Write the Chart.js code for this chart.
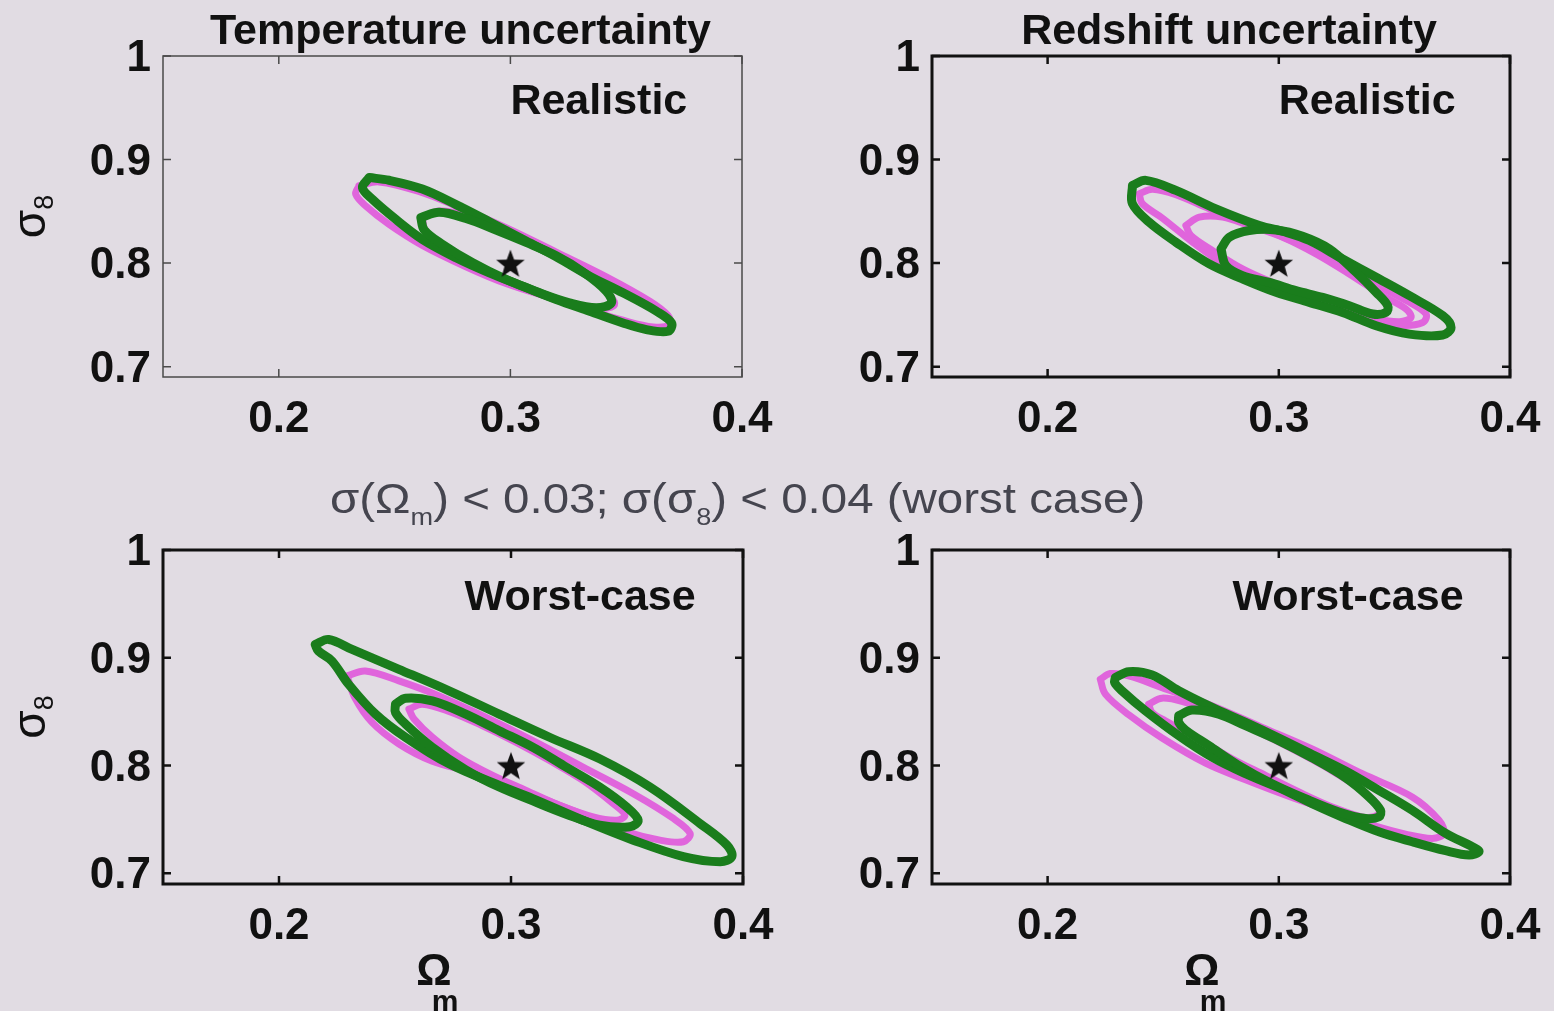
<!DOCTYPE html>
<html>
<head>
<meta charset="utf-8">
<script src="https://cdn.jsdelivr.net/npm/chart.js@4.4.1/dist/chart.umd.min.js"></script>
<style>
  html, body { margin: 0; padding: 0; background: #e1dce3; }
  body { width: 1554px; height: 1011px; position: relative; overflow: hidden;
         font-family: "Liberation Sans", Arial, sans-serif; }
  canvas { position: absolute; }
  #subtitle { position: absolute; left: 330px; top: 478px; font-size: 42px; line-height: 42px;
              color: #45454f; white-space: nowrap; transform: scaleX(1.13); transform-origin: 0 0; }
  #subtitle sub { font-size: 24px; vertical-align: -12px; line-height: 0; }
</style>
</head>
<body>
<canvas id="pTL" width="777" height="455" style="left:0;top:0"></canvas>
<canvas id="pTR" width="777" height="455" style="left:777px;top:0"></canvas>
<canvas id="pBL" width="777" height="556" style="left:0;top:455px"></canvas>
<canvas id="pBR" width="777" height="556" style="left:777px;top:455px"></canvas>
<div id="subtitle">σ(Ω<sub>m</sub>) &lt; 0.03; σ(σ<sub>8</sub>) &lt; 0.04 (worst case)</div>
<script>
// Axis ranges and ticks (Omega_m on x, sigma_8 on y)
const xRange = [0.15, 0.4];
const yRange = [0.69, 1.0];
const xTicks = [0.2, 0.3, 0.4];
const xTickLabels = ['0.2', '0.3', '0.4'];
const yTicks = [0.7, 0.8, 0.9, 1];
const yTickLabels = ['0.7', '0.8', '0.9', '1'];

// Fiducial cosmology marked with a star
const fiducial = [0.3, 0.8];

// Text of each panel
const panelTitles = ['Temperature uncertainty', 'Redshift uncertainty', '', ''];
const caseLabels = ['Realistic', 'Realistic', 'Worst-case', 'Worst-case'];
const caseLabelX = [0.30, 0.30, 0.28, 0.28];
const caseLabelY = 0.955;

// Confidence contours, [Omega_m, sigma_8] pairs
// Temperature uncertainty, realistic
const tempRealMagentaOuter = [[0.2346,0.8745],[0.2433,0.8784],[0.2620,0.8681],[0.2765,0.8552],[0.2981,0.8342],[0.3198,0.8106],[0.3414,0.7868],[0.3602,0.7632],[0.3681,0.7493],[0.3688,0.7406],[0.3616,0.7384],[0.3486,0.7448],[0.3342,0.7545],[0.3198,0.7648],[0.2981,0.7803],[0.2808,0.7965],[0.2620,0.8171],[0.2476,0.8374],[0.2375,0.8552],[0.2332,0.8665]];
const tempRealMagentaInner = [[0.2620,0.8439],[0.2693,0.8503],[0.2808,0.8461],[0.2938,0.8342],[0.3068,0.8213],[0.3198,0.8061],[0.3328,0.7890],[0.3421,0.7713],[0.3450,0.7600],[0.3385,0.7558],[0.3255,0.7610],[0.3126,0.7706],[0.2981,0.7835],[0.2837,0.7997],[0.2707,0.8171],[0.2632,0.8319]];
const tempRealGreenOuter = [[0.2390,0.8826],[0.2476,0.8800],[0.2620,0.8715],[0.2765,0.8565],[0.2909,0.8400],[0.3053,0.8230],[0.3198,0.8060],[0.3342,0.7874],[0.3486,0.7713],[0.3631,0.7535],[0.3696,0.7422],[0.3681,0.7342],[0.3587,0.7358],[0.3486,0.7422],[0.3342,0.7535],[0.3198,0.7648],[0.3053,0.7777],[0.2909,0.7906],[0.2765,0.8052],[0.2620,0.8229],[0.2505,0.8423],[0.2404,0.8616],[0.2361,0.8729]];
const tempRealGreenInner = [[0.2613,0.8440],[0.2693,0.8490],[0.2808,0.8430],[0.2938,0.8320],[0.3068,0.8200],[0.3198,0.8070],[0.3313,0.7915],[0.3414,0.7729],[0.3436,0.7616],[0.3371,0.7568],[0.3255,0.7616],[0.3126,0.7713],[0.2981,0.7842],[0.2837,0.8003],[0.2707,0.8181],[0.2628,0.8320]];

// Redshift uncertainty, realistic
const zRealMagentaOuter = [[0.2396,0.8670],[0.2454,0.8712],[0.2555,0.8660],[0.2699,0.8524],[0.2843,0.8402],[0.2988,0.8282],[0.3132,0.8137],[0.3276,0.7960],[0.3421,0.7789],[0.3565,0.7621],[0.3637,0.7508],[0.3623,0.7427],[0.3522,0.7401],[0.3377,0.7476],[0.3204,0.7605],[0.3060,0.7702],[0.2916,0.7821],[0.2771,0.7976],[0.2627,0.8202],[0.2497,0.8434],[0.2410,0.8573]];
const zRealMagentaInner = [[0.2598,0.8363],[0.2656,0.8444],[0.2757,0.8444],[0.2872,0.8363],[0.3017,0.8250],[0.3161,0.8089],[0.3305,0.7895],[0.3450,0.7685],[0.3550,0.7556],[0.3572,0.7476],[0.3522,0.7434],[0.3421,0.7466],[0.3276,0.7572],[0.3132,0.7669],[0.2988,0.7798],[0.2843,0.7944],[0.2714,0.8121],[0.2620,0.8266]];
const zRealGreenOuter = [[0.2367,0.8750],[0.2425,0.8799],[0.2555,0.8702],[0.2728,0.8524],[0.2916,0.8363],[0.3031,0.8298],[0.3132,0.8218],[0.3276,0.8040],[0.3421,0.7863],[0.3565,0.7685],[0.3709,0.7492],[0.3745,0.7379],[0.3709,0.7305],[0.3565,0.7314],[0.3421,0.7395],[0.3276,0.7524],[0.3132,0.7621],[0.2988,0.7718],[0.2843,0.7847],[0.2699,0.7992],[0.2555,0.8202],[0.2439,0.8395],[0.2367,0.8573]];
const zRealGreenInner = [[0.2750,0.8137],[0.2786,0.8250],[0.2872,0.8315],[0.2988,0.8320],[0.3103,0.8260],[0.3219,0.8137],[0.3334,0.7911],[0.3421,0.7718],[0.3471,0.7589],[0.3464,0.7524],[0.3406,0.7508],[0.3305,0.7589],[0.3190,0.7669],[0.3074,0.7734],[0.2959,0.7814],[0.2843,0.7879],[0.2771,0.7976]];

// Temperature uncertainty, worst case
const tempWorstMagentaOuter = [[0.2293,0.8831],[0.2372,0.8877],[0.2517,0.8785],[0.2690,0.8646],[0.2877,0.8462],[0.3094,0.8231],[0.3310,0.7985],[0.3527,0.7738],[0.3700,0.7508],[0.3772,0.7369],[0.3743,0.7292],[0.3642,0.7307],[0.3498,0.7384],[0.3354,0.7508],[0.3209,0.7631],[0.3022,0.7790],[0.2834,0.7935],[0.2661,0.8040],[0.2517,0.8200],[0.2401,0.8400],[0.2329,0.8620]];
const tempWorstMagentaInner = [[0.2560,0.8523],[0.2618,0.8569],[0.2733,0.8502],[0.2877,0.8369],[0.3022,0.8215],[0.3166,0.8046],[0.3310,0.7861],[0.3440,0.7646],[0.3491,0.7538],[0.3455,0.7492],[0.3354,0.7523],[0.3209,0.7631],[0.3065,0.7769],[0.2921,0.7908],[0.2776,0.8077],[0.2661,0.8262],[0.2582,0.8431]];
const tempWorstGreenOuter = [[0.2156,0.9123],[0.2214,0.9170],[0.2315,0.9077],[0.2517,0.8893],[0.2733,0.8693],[0.2949,0.8477],[0.3166,0.8262],[0.3382,0.8062],[0.3599,0.7800],[0.3815,0.7461],[0.3931,0.7261],[0.3952,0.7154],[0.3902,0.7107],[0.3743,0.7154],[0.3527,0.7307],[0.3310,0.7492],[0.3094,0.7692],[0.2949,0.7815],[0.2733,0.8015],[0.2545,0.8262],[0.2416,0.8477],[0.2300,0.8754],[0.2228,0.8970],[0.2170,0.9062]];
const tempWorstGreenInner = [[0.2502,0.8569],[0.2545,0.8625],[0.2661,0.8600],[0.2805,0.8477],[0.2949,0.8323],[0.3094,0.8169],[0.3238,0.7985],[0.3382,0.7800],[0.3498,0.7615],[0.3548,0.7492],[0.3512,0.7431],[0.3382,0.7446],[0.3238,0.7548],[0.3094,0.7671],[0.2949,0.7800],[0.2805,0.7960],[0.2661,0.8169],[0.2545,0.8385],[0.2502,0.8492]];

// Redshift uncertainty, worst case
const zWorstMagentaOuter = [[0.2228,0.8800],[0.2271,0.8853],[0.2351,0.8831],[0.2495,0.8723],[0.2711,0.8554],[0.2928,0.8354],[0.3144,0.8154],[0.3361,0.7923],[0.3577,0.7708],[0.3693,0.7492],[0.3714,0.7369],[0.3664,0.7323],[0.3548,0.7363],[0.3404,0.7446],[0.3260,0.7554],[0.3072,0.7692],[0.2856,0.7868],[0.2683,0.8022],[0.2495,0.8255],[0.2351,0.8471],[0.2250,0.8662]];
const zWorstMagentaInner = [[0.2437,0.8569],[0.2495,0.8625],[0.2596,0.8585],[0.2740,0.8477],[0.2899,0.8323],[0.3058,0.8154],[0.3216,0.7969],[0.3361,0.7769],[0.3433,0.7615],[0.3426,0.7538],[0.3361,0.7523],[0.3231,0.7615],[0.3087,0.7754],[0.2942,0.7908],[0.2798,0.8062],[0.2654,0.8246],[0.2509,0.8415],[0.2452,0.8492]];
const zWorstGreenOuter = [[0.2293,0.8816],[0.2351,0.8871],[0.2452,0.8840],[0.2567,0.8693],[0.2711,0.8539],[0.2856,0.8400],[0.3000,0.8255],[0.3144,0.8102],[0.3289,0.7948],[0.3433,0.7769],[0.3577,0.7584],[0.3722,0.7369],[0.3837,0.7246],[0.3866,0.7200],[0.3823,0.7169],[0.3722,0.7209],[0.3577,0.7292],[0.3433,0.7384],[0.3289,0.7508],[0.3144,0.7646],[0.3000,0.7794],[0.2856,0.7923],[0.2711,0.8077],[0.2567,0.8277],[0.2423,0.8508],[0.2322,0.8693],[0.2290,0.8770]];
const zWorstGreenInner = [[0.2567,0.8462],[0.2625,0.8514],[0.2740,0.8477],[0.2856,0.8369],[0.3000,0.8231],[0.3144,0.8071],[0.3289,0.7886],[0.3390,0.7708],[0.3440,0.7584],[0.3433,0.7523],[0.3375,0.7508],[0.3260,0.7569],[0.3115,0.7692],[0.2971,0.7831],[0.2827,0.8000],[0.2697,0.8185],[0.2596,0.8329],[0.2567,0.8400]];

const panelContours = [
  [tempRealMagentaOuter, tempRealMagentaInner, tempRealGreenOuter, tempRealGreenInner],
  [zRealMagentaOuter, zRealMagentaInner, zRealGreenOuter, zRealGreenInner],
  [tempWorstMagentaOuter, tempWorstMagentaInner, tempWorstGreenOuter, tempWorstGreenInner],
  [zWorstMagentaOuter, zWorstMagentaInner, zWorstGreenOuter, zWorstGreenInner]
];

const FONT = '"Liberation Sans", Arial, sans-serif';
Chart.defaults.font.family = FONT;

const GREEN = '#1a7d1c';
const MAGENTA = '#e065dc';
const INK = '#111111';

// Filled five-pointed star used as the marker style
function makeStar(r) {
  const s = Math.ceil(r * 2 + 2);
  const c = document.createElement('canvas');
  c.width = s; c.height = s;
  const g = c.getContext('2d');
  g.translate(s / 2, s / 2 + r * 0.1);
  g.beginPath();
  for (let i = 0; i < 10; i++) {
    const rad = i % 2 ? r * 0.42 : r;
    const a = -Math.PI / 2 + i * Math.PI / 5;
    g.lineTo(rad * Math.cos(a), rad * Math.sin(a));
  }
  g.closePath();
  g.fillStyle = INK;
  g.fill();
  return c;
}
const starImg = makeStar(15);

// Box, inward ticks and panel texts
const panelDecor = {
  id: 'panelDecor',
  afterDatasetsDraw(chart, args, o) {
    const { ctx, chartArea: a, scales: { x, y } } = chart;
    ctx.save();
    ctx.strokeStyle = o.axisColor;
    ctx.lineWidth = o.axisWidth;
    ctx.strokeRect(a.left, a.top, a.right - a.left, a.bottom - a.top);
    ctx.lineWidth = Math.max(1.5, o.axisWidth - 0.5);
    ctx.beginPath();
    x.ticks.forEach(t => {
      const px = x.getPixelForValue(t.value);
      ctx.moveTo(px, a.bottom); ctx.lineTo(px, a.bottom - 8);
      ctx.moveTo(px, a.top); ctx.lineTo(px, a.top + 8);
    });
    y.ticks.forEach(t => {
      const py = y.getPixelForValue(t.value);
      ctx.moveTo(a.left, py); ctx.lineTo(a.left + 8, py);
      ctx.moveTo(a.right, py); ctx.lineTo(a.right - 8, py);
    });
    ctx.stroke();

    ctx.fillStyle = INK;
    if (o.title) {
      ctx.font = 'bold 43px ' + FONT;
      ctx.textAlign = 'center';
      ctx.textBaseline = 'alphabetic';
      ctx.fillText(o.title, (a.left + a.right) / 2 + 8, a.top - 12);
    }
    ctx.font = 'bold 43px ' + FONT;
    ctx.textAlign = 'left';
    ctx.textBaseline = 'middle';
    ctx.fillText(o.caseLabel, x.getPixelForValue(o.caseX), y.getPixelForValue(caseLabelY));

    if (o.yLabel) {
      ctx.save();
      ctx.translate(31, (a.top + a.bottom) / 2);
      ctx.rotate(-Math.PI / 2);
      ctx.textBaseline = 'alphabetic';
      ctx.font = '46px ' + FONT;
      const w1 = ctx.measureText('σ').width;
      ctx.font = '27px ' + FONT;
      const w2 = ctx.measureText('8').width;
      const x0 = -(w1 + w2) / 2;
      ctx.font = '46px ' + FONT;
      ctx.fillText('σ', x0, 14);
      ctx.font = '27px ' + FONT;
      ctx.fillText('8', x0 + w1, 22);
      ctx.restore();
    }
    if (o.xLabel) {
      const cx = (a.left + a.right) / 2;
      ctx.textBaseline = 'alphabetic';
      ctx.textAlign = 'center';
      ctx.font = 'bold 44px ' + FONT;
      ctx.fillText('Ω', cx - 19, a.bottom + 101);
      ctx.font = 'bold 30px ' + FONT;
      ctx.fillText('m', cx - 8, a.bottom + 127);
    }
    ctx.restore();
  }
};

const panels = [
  { id: 'pTL', yAxisW: 163, padR: 35, padT: 56, xAxisH: 78, axisColor: '#4a4a4a', axisWidth: 1.5, yLabel: true,  xLabel: false },
  { id: 'pTR', yAxisW: 155, padR: 44, padT: 56, xAxisH: 78, axisColor: INK, axisWidth: 3, yLabel: false, xLabel: false },
  { id: 'pBL', yAxisW: 163, padR: 34, padT: 95, xAxisH: 127, axisColor: INK, axisWidth: 3, yLabel: true,  xLabel: true },
  { id: 'pBR', yAxisW: 155, padR: 44, padT: 95, xAxisH: 127, axisColor: INK, axisWidth: 3, yLabel: false, xLabel: true }
];

const toXY = arr => arr.concat([arr[0]]).map(p => ({ x: p[0], y: p[1] }));

panels.forEach((p, i) => {
  const [mOut, mIn, gOut, gIn] = panelContours[i];
  const contour = (pts, color, width, order) => ({
    data: toXY(pts), showLine: true, borderColor: color, borderWidth: width,
    pointRadius: 0, tension: 0.35, fill: false, order,
    borderCapStyle: 'round', borderJoinStyle: 'round'
  });
  new Chart(document.getElementById(p.id), {
    type: 'scatter',
    data: {
      datasets: [
        { data: [{ x: fiducial[0], y: fiducial[1] }], pointStyle: starImg, pointRadius: 15, order: 0 },
        contour(gIn, GREEN, 9, 1),
        contour(gOut, GREEN, 9, 1),
        contour(mIn, MAGENTA, 7, 2),
        contour(mOut, MAGENTA, 7, 2)
      ]
    },
    options: {
      responsive: false,
      animation: false,
      devicePixelRatio: 1,
      events: [],
      layout: { padding: { left: 0, right: p.padR, top: p.padT, bottom: 0 } },
      plugins: {
        legend: { display: false },
        tooltip: { enabled: false },
        panelDecor: {
          axisColor: p.axisColor, axisWidth: p.axisWidth,
          title: panelTitles[i], caseLabel: caseLabels[i], caseX: caseLabelX[i],
          yLabel: p.yLabel, xLabel: p.xLabel
        }
      },
      scales: {
        x: {
          type: 'linear', min: xRange[0], max: xRange[1],
          afterBuildTicks: s => { s.ticks = xTicks.map(v => ({ value: v })); },
          afterFit: s => { s.height = p.xAxisH; s.paddingLeft = 0; s.paddingRight = 0; },
          grid: { display: false, drawTicks: false },
          border: { display: false },
          ticks: {
            autoSkip: false, maxRotation: 0, padding: 16, color: INK,
            font: { size: 44, weight: 'bold' },
            callback: (v, idx) => xTickLabels[idx]
          }
        },
        y: {
          type: 'linear', min: yRange[0], max: yRange[1],
          afterBuildTicks: s => { s.ticks = yTicks.map(v => ({ value: v })); },
          afterFit: s => { s.width = p.yAxisW; s.paddingTop = 0; s.paddingBottom = 0; },
          grid: { display: false, drawTicks: false },
          border: { display: false },
          ticks: {
            autoSkip: false, padding: 12, labelOffset: 3, color: INK,
            font: { size: 44, weight: 'bold' },
            callback: (v, idx) => yTickLabels[idx]
          }
        }
      }
    },
    plugins: [panelDecor]
  });
});
</script>
</body>
</html>
